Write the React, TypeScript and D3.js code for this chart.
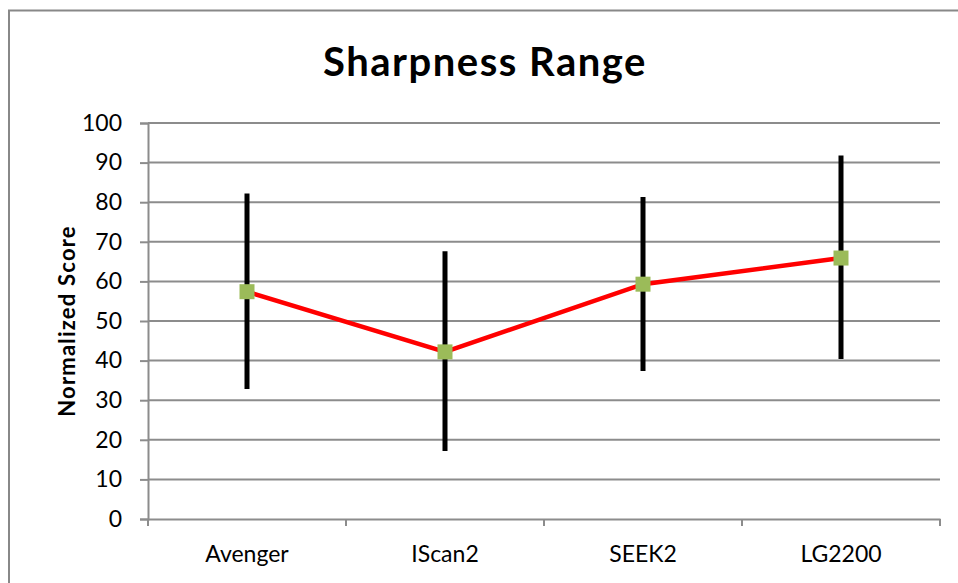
import React, { useEffect, useRef } from 'react';
import * as d3 from 'd3';

// values
const devices = ['Avenger', 'IScan2', 'SEEK2', 'LG2200'];
const meanScore = [57.4, 42.2, 59.3, 65.9];
const lowScore = [32.8, 17.2, 37.4, 40.4];
const highScore = [82.2, 67.6, 81.3, 91.8];
const yTicks = [0, 10, 20, 30, 40, 50, 60, 70, 80, 90, 100];

const App: React.FC = () => {
    const ref = useRef<SVGSVGElement>(null);

    useEffect(() => {
        const svg = d3.select(ref.current);
        svg.selectAll('*').remove();

        const width = 958;
        const height = 583;
        const marginTop = 123;
        const marginRight = 18;
        const marginBottom = 64;
        const marginLeft = 148;
        const font = 'Lato, "Open Sans", sans-serif';
        const gridColor = '#8c8c8c';

        const data = devices.map((name, i) => ({
            name,
            mean: meanScore[i],
            low: lowScore[i],
            high: highScore[i],
        }));

        const x = d3.scaleBand()
            .domain(devices)
            .range([marginLeft, width - marginRight])
            .padding(0);

        const y = d3.scaleLinear()
            .domain([0, 100])
            .range([height - marginBottom, marginTop]);

        const cx = (d: string) => (x(d) as number) + x.bandwidth() / 2;

        // chart border (runs off the right and bottom edges, as in the original)
        svg.append('rect')
            .attr('x', 9)
            .attr('y', 10.5)
            .attr('width', width + 20)
            .attr('height', height + 20)
            .attr('fill', 'white')
            .attr('stroke', '#888')
            .attr('stroke-width', 2);

        // title
        svg.append('text')
            .attr('x', 485)
            .attr('y', 76)
            .attr('text-anchor', 'middle')
            .attr('font-family', font)
            .attr('font-weight', 'bold')
            .attr('font-size', 40)
            .attr('letter-spacing', 1.5)
            .attr('fill', 'black')
            .text('Sharpness Range');

        // gridlines
        svg.append('g')
            .selectAll('line')
            .data(yTicks.slice(1))
            .join('line')
            .attr('x1', marginLeft)
            .attr('x2', width - marginRight)
            .attr('y1', d => y(d))
            .attr('y2', d => y(d))
            .attr('stroke', gridColor)
            .attr('stroke-width', 2);

        // y axis
        svg.append('g')
            .attr('transform', `translate(${marginLeft},0)`)
            .call(d3.axisLeft(y).tickValues(yTicks).tickSize(8).tickPadding(18))
            .call(g => g.select('.domain').attr('stroke', gridColor).attr('stroke-width', 2))
            .call(g => g.selectAll('.tick line').attr('stroke', gridColor).attr('stroke-width', 2))
            .call(g => g.selectAll('.tick text')
                .attr('font-family', font)
                .attr('font-size', 23)
                .attr('fill', 'black'));

        // x axis
        svg.append('g')
            .attr('transform', `translate(0,${height - marginBottom})`)
            .call(d3.axisBottom(x).tickSize(0).tickPadding(27))
            .call(g => g.select('.domain').attr('stroke', gridColor).attr('stroke-width', 2))
            .call(g => g.selectAll('.tick text')
                .attr('font-family', font)
                .attr('font-size', 23)
                .attr('fill', 'black'));

        // category separator ticks
        svg.append('g')
            .selectAll('line')
            .data(d3.range(devices.length + 1))
            .join('line')
            .attr('x1', i => marginLeft + i * x.bandwidth())
            .attr('x2', i => marginLeft + i * x.bandwidth())
            .attr('y1', height - marginBottom)
            .attr('y2', height - marginBottom + 7)
            .attr('stroke', gridColor)
            .attr('stroke-width', 2);

        // y axis title
        svg.append('text')
            .attr('transform', `translate(75,${(marginTop + height - marginBottom) / 2}) rotate(-90)`)
            .attr('text-anchor', 'middle')
            .attr('font-family', font)
            .attr('font-weight', 'bold')
            .attr('font-size', 22)
            .attr('letter-spacing', 1.2)
            .attr('fill', 'black')
            .text('Normalized Score');

        // range bars
        svg.append('g')
            .selectAll('line')
            .data(data)
            .join('line')
            .attr('x1', d => cx(d.name))
            .attr('x2', d => cx(d.name))
            .attr('y1', d => y(d.low))
            .attr('y2', d => y(d.high))
            .attr('stroke', 'black')
            .attr('stroke-width', 5);

        // mean line
        const line = d3.line<typeof data[0]>()
            .x(d => cx(d.name))
            .y(d => y(d.mean));

        svg.append('path')
            .datum(data)
            .attr('d', line)
            .attr('fill', 'none')
            .attr('stroke', '#ff0000')
            .attr('stroke-width', 4.5);

        // markers
        svg.append('g')
            .selectAll('rect')
            .data(data)
            .join('rect')
            .attr('x', d => cx(d.name) - 7.5)
            .attr('y', d => y(d.mean) - 7.5)
            .attr('width', 15)
            .attr('height', 15)
            .attr('fill', '#9bbb59');
    }, []);

    return (
        <svg ref={ref} width={958} height={583} style={{ position: 'absolute', left: 0, top: 0 }} />
    );
};

export default App;
